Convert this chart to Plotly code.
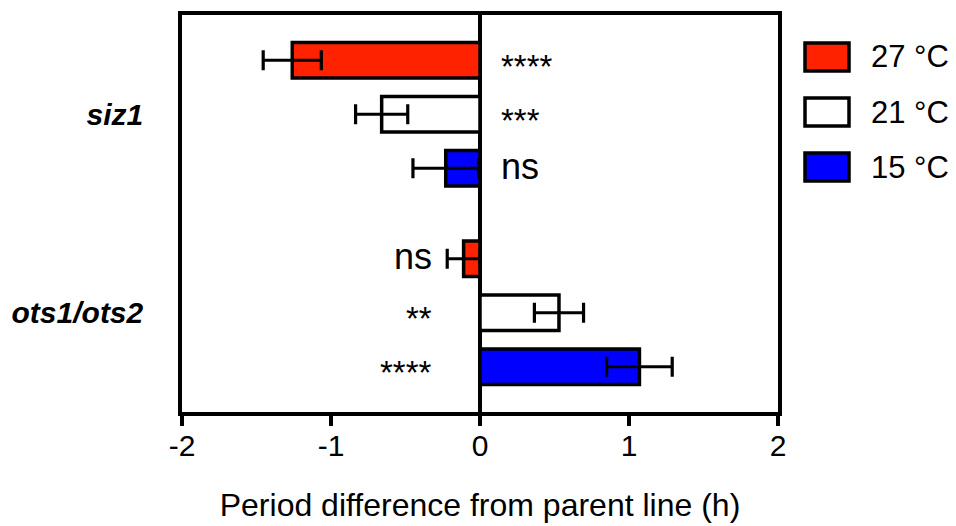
import plotly.graph_objects as go

# ---- data ----
categories = ["siz1", "ots1/ots2"]
series_names = ["27 °C", "21 °C", "15 °C"]
values_27 = [-1.26, -0.11]
values_21 = [-0.66, 0.53]
values_15 = [-0.23, 1.07]
errors_27 = [0.195, 0.11]
errors_21 = [0.175, 0.165]
errors_15 = [0.22, 0.22]
sig_27 = ["****", "ns"]
sig_21 = ["***", "**"]
sig_15 = ["ns", "****"]
x_ticks = [-2, -1, 0, 1, 2]

series_values = [values_27, values_21, values_15]
series_errors = [errors_27, errors_21, errors_15]
series_sig = [sig_27, sig_21, sig_15]
colors = ["#ff2200", "#ffffff", "#0000ff"]

FONT = "Liberation Sans, Arial, sans-serif"
OFF = 8  # default page body margin
W, H = 956 - OFF, 526 - OFF
PW, PH = 596, 397
L, T = 182 - OFF, 15 - OFF
R, B = W - L - PW, H - T - PH

BARGAP = 0.184
GROUPGAP = 0.34
n_series = len(series_names)
slot = (1 - BARGAP) / n_series

fig = go.Figure()
for name, vals, errs, col in zip(series_names, series_values, series_errors, colors):
    fig.add_trace(go.Bar(
        y=categories, x=vals, orientation="h", name=name,
        marker=dict(color=col, line=dict(color="black", width=3.5)),
        error_x=dict(type="data", array=errs, visible=True,
                     color="black", thickness=3.2, width=10),
        showlegend=False,
    ))

annotations = []
for j, sigs in enumerate(series_sig):
    for i, s in enumerate(sigs):
        ypos = i + (j - (n_series - 1) / 2) * slot
        right_side = (i == 0)
        is_ns = (s == "ns")
        annotations.append(dict(
            x=0.13 if right_side else -0.31, y=ypos, xref="x", yref="y",
            text=s, showarrow=False,
            xanchor="left" if right_side else "right", yanchor="middle",
            font=dict(family=FONT, size=36 if is_ns else 33, color="black"),
            yshift=2 if is_ns else -6,
        ))

def px_x(p):
    return (p - OFF - L) / PW

def px_y(p):
    return (H - B - (p - OFF)) / PH

shapes = []
row_centers = [57, 112, 167]
for name, col, yc in zip(series_names, colors, row_centers):
    shapes.append(dict(
        type="rect", xref="paper", yref="paper",
        x0=px_x(805), x1=px_x(849), y0=px_y(yc + 14), y1=px_y(yc - 14),
        fillcolor=col, line=dict(color="black", width=3.5),
    ))
    annotations.append(dict(
        x=px_x(869), y=px_y(yc), xref="paper", yref="paper",
        text=name, showarrow=False, xanchor="left", yanchor="middle",
        font=dict(family=FONT, size=31, color="black"),
    ))

fig.update_layout(
    width=W, height=H,
    margin=dict(l=L, r=R, t=T, b=B, pad=0, autoexpand=False),
    paper_bgcolor="white", plot_bgcolor="white",
    barmode="group", bargap=BARGAP, bargroupgap=GROUPGAP,
    font=dict(family=FONT, color="black"),
    showlegend=False,
    annotations=annotations,
    shapes=shapes,
)
fig.update_xaxes(
    range=[-2, 2], tickvals=x_ticks, ticktext=[str(t) for t in x_ticks],
    showgrid=False, zeroline=True, zerolinecolor="black", zerolinewidth=3.5,
    showline=True, linecolor="black", linewidth=3.5, mirror=True,
    ticks="outside", ticklen=10, tickwidth=3.5, tickcolor="black",
    ticklabelstandoff=-6, automargin=False,
    tickfont=dict(family=FONT, size=30, color="black"),
    title=dict(text="Period difference from parent line (h)",
               font=dict(family=FONT, size=32, color="black"), standoff=34),
)
fig.update_yaxes(
    type="category", range=[1.5, -0.5],
    tickvals=categories, ticktext=[f"<b><i>{c}</i></b>" for c in categories],
    showgrid=False, zeroline=False,
    showline=True, linecolor="black", linewidth=3.5, mirror=True,
    ticks="", ticklabelstandoff=29, automargin=False,
    tickfont=dict(family=FONT, size=30, color="black"),
)

fig.write_html("out.html")
